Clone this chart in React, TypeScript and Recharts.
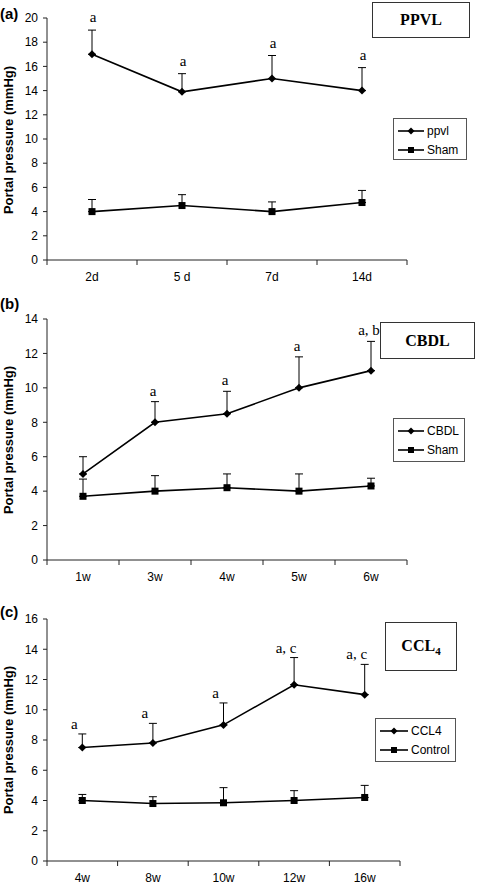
import React from 'react';
import { LineChart, Line, XAxis, YAxis, ErrorBar, LabelList, Legend } from 'recharts';

// ---------- data ----------
// (a) PPVL
const catsA = ['2d', '5 d', '7d', '14d'];
const ppvl = [17, 13.9, 15, 14];
const ppvlErr = [2.0, 1.5, 1.9, 1.9];
const shamA = [4.0, 4.5, 4.0, 4.75];
const shamAErr = [1.0, 0.9, 0.8, 1.0];
const notesA = ['a', 'a', 'a', 'a'];
const yTicksA = [0, 2, 4, 6, 8, 10, 12, 14, 16, 18, 20];

// (b) CBDL
const catsB = ['1w', '3w', '4w', '5w', '6w'];
const cbdl = [5.0, 8.0, 8.5, 10.0, 11.0];
const cbdlErr = [1.0, 1.2, 1.3, 1.8, 1.7];
const shamB = [3.7, 4.0, 4.2, 4.0, 4.3];
const shamBErr = [1.0, 0.9, 0.8, 1.0, 0.45];
const notesB = ['', 'a', 'a', 'a', 'a, b'];
const yTicksB = [0, 2, 4, 6, 8, 10, 12, 14];

// (c) CCL4
const catsC = ['4w', '8w', '10w', '12w', '16w'];
const ccl4 = [7.5, 7.8, 9.0, 11.65, 11.0];
const ccl4Err = [0.9, 1.3, 1.45, 1.8, 2.0];
const control = [4.0, 3.8, 3.85, 4.0, 4.2];
const controlErr = [0.4, 0.45, 1.0, 0.65, 0.8];
const notesC = ['a', 'a', 'a', 'a, c', 'a, c'];
const yTicksC = [0, 2, 4, 6, 8, 10, 12, 14, 16];

const SANS = '"Liberation Sans", Arial, Helvetica, sans-serif';
const SERIF = '"Liberation Serif", "Times New Roman", Times, serif';

function buildRows(cats: string[], treat: number[], treatErr: number[], ctrl: number[], ctrlErr: number[], notes: string[]) {
  return cats.map((c, i) => ({
    cat: c,
    treat: treat[i],
    treatErr: [0, treatErr[i]],
    ctrl: ctrl[i],
    ctrlErr: [0, ctrlErr[i]],
    top: treat[i] + treatErr[i],
    note: notes[i],
  }));
}

const Diamond = (p: any) => {
  const { cx, cy } = p;
  if (cx == null || cy == null) return null;
  const r = 4;
  return <polygon key={`d${cx}`} points={`${cx},${cy - r} ${cx + r},${cy} ${cx},${cy + r} ${cx - r},${cy}`} fill="#000" />;
};
const Square = (p: any) => {
  const { cx, cy } = p;
  if (cx == null || cy == null) return null;
  const s = 3.5;
  return <rect key={`s${cx}`} x={cx - s} y={cy - s} width={2 * s} height={2 * s} fill="#000" />;
};

const XTick = (props: any) => {
  const { x, y, payload, index, visibleTicksCount, width } = props;
  let half = payload && payload.offset ? payload.offset : 0;
  if (!half && width && visibleTicksCount) half = width / visibleTicksCount / 2;
  const last = index === visibleTicksCount - 1;
  return (
    <g>
      <line x1={x - half} y1={y} x2={x - half} y2={y + 5} stroke="#222" strokeWidth={1} />
      {last && <line x1={x + half} y1={y} x2={x + half} y2={y + 5} stroke="#222" strokeWidth={1} />}
      <text x={x} y={y + 12} dy="0.71em" textAnchor="middle" fontFamily={SANS} fontSize={12} fill="#000">
        {payload.value}
      </text>
    </g>
  );
};

const makeNote = (dx: number, dy: number) => (props: any) => {
  const { x, y, value } = props;
  if (!value || x == null || y == null) return null;
  return (
    <text x={x + dx} y={y - dy} textAnchor="middle" fontFamily={SERIF} fontSize={15} fill="#000">
      {value}
    </text>
  );
};

const LegendBox = ({ names, lineW }: { names: string[]; lineW: number }) => (
  <div
    style={{
      border: '1px solid #555',
      background: '#fff',
      padding: '2px 0 0 4px',
      boxSizing: 'border-box',
      height: '100%',
      fontFamily: SANS,
      fontSize: 12,
      color: '#000',
    }}
  >
    {names.map((n, i) => (
      <div key={n} style={{ height: 19, display: 'flex', alignItems: 'center' }}>
        <svg width={lineW} height={10} style={{ marginRight: 3 }}>
          <line x1={0} y1={5} x2={lineW} y2={5} stroke="#000" strokeWidth={1.6} />
          {i === 0 ? (
            <polygon points={`${lineW / 2},1.5 ${lineW / 2 + 3.5},5 ${lineW / 2},8.5 ${lineW / 2 - 3.5},5`} fill="#000" />
          ) : (
            <rect x={lineW / 2 - 3} y={2} width={6} height={6} fill="#000" />
          )}
        </svg>
        <span>{n}</span>
      </div>
    ))}
  </div>
);

type PanelProps = {
  top: number;
  height: number;
  marginTop: number;
  marginRight: number;
  xHeight: number;
  yMax: number;
  yTicks: number[];
  data: any[];
  names: string[];
  legend: { left: number; top: number; width: number; height: number; lineW: number };
  title: { left: number; top: number; width: number; height: number; content: React.ReactNode };
  note: { dx: number; dy: number };
  panelLabel: string;
  labelTop: number;
  yLabelCenter: number;
};

const Panel = (p: PanelProps) => (
  <div style={{ position: 'absolute', left: 0, top: p.top, width: 478, height: p.height }}>
    <LineChart
      width={478}
      height={p.height}
      data={p.data}
      margin={{ top: p.marginTop, right: p.marginRight, bottom: 0, left: 0 }}
    >
      <XAxis
        dataKey="cat"
        scale="band"
        height={p.xHeight}
        stroke="#222"
        tickLine={false}
        tickSize={0}
        tickMargin={0}
        tick={<XTick />}
        interval={0}
      />
      <YAxis
        type="number"
        domain={[0, p.yMax]}
        ticks={p.yTicks}
        width={47}
        stroke="#222"
        tickSize={4}
        tickMargin={5}
        interval={0}
        tick={{ fill: '#000', fontSize: 12, fontFamily: SANS }}
      />
      <Legend
        layout="vertical"
        verticalAlign="middle"
        align="center"
        wrapperStyle={{ left: p.legend.left, top: p.legend.top, width: p.legend.width, height: p.legend.height }}
        content={() => <LegendBox names={p.names} lineW={p.legend.lineW} />}
      />
      <Line
        dataKey="top"
        stroke="none"
        dot={false}
        activeDot={false}
        legendType="none"
        isAnimationActive={false}
      >
        <LabelList dataKey="note" content={makeNote(p.note.dx, p.note.dy)} />
      </Line>
      <Line
        name={p.names[1]}
        dataKey="ctrl"
        stroke="#000"
        strokeWidth={1.6}
        dot={<Square />}
        activeDot={false}
        isAnimationActive={false}
      >
        <ErrorBar dataKey="ctrlErr" width={4} stroke="#000" strokeWidth={1} direction="y" isAnimationActive={false} />
      </Line>
      <Line
        name={p.names[0]}
        dataKey="treat"
        stroke="#000"
        strokeWidth={1.6}
        dot={<Diamond />}
        activeDot={false}
        isAnimationActive={false}
      >
        <ErrorBar dataKey="treatErr" width={4} stroke="#000" strokeWidth={1} direction="y" isAnimationActive={false} />
      </Line>
    </LineChart>
    <div
      style={{
        position: 'absolute',
        left: p.title.left,
        top: p.title.top,
        width: p.title.width,
        height: p.title.height,
        border: '1px solid #333',
        boxSizing: 'border-box',
        background: '#fff',
        display: 'flex',
        alignItems: 'center',
        justifyContent: 'center',
        fontFamily: SERIF,
        fontWeight: 'bold',
        fontSize: 16,
        color: '#000',
      }}
    >
      {p.title.content}
    </div>
    <div
      style={{
        position: 'absolute',
        left: 0,
        top: p.labelTop,
        fontFamily: SANS,
        fontWeight: 'bold',
        fontSize: 15,
        lineHeight: '15px',
        color: '#000',
      }}
    >
      {p.panelLabel}
    </div>
    <div
      style={{
        position: 'absolute',
        left: 9 - 100,
        top: p.yLabelCenter - 8,
        width: 200,
        height: 16,
        lineHeight: '16px',
        textAlign: 'center',
        transform: 'rotate(-90deg)',
        fontFamily: SANS,
        fontWeight: 'bold',
        fontSize: 13,
        color: '#000',
        whiteSpace: 'nowrap',
      }}
    >
      Portal pressure (mmHg)
    </div>
  </div>
);

export default function App() {
  const dataA = buildRows(catsA, ppvl, ppvlErr, shamA, shamAErr, notesA);
  const dataB = buildRows(catsB, cbdl, cbdlErr, shamB, shamBErr, notesB);
  const dataC = buildRows(catsC, ccl4, ccl4Err, control, controlErr, notesC);
  return (
    <div style={{ position: 'absolute', left: 0, top: 0, width: 478, height: 884, overflow: 'hidden', background: '#fff' }}>
      <Panel
        top={0}
        height={290}
        marginTop={18}
        marginRight={71}
        xHeight={30}
        yMax={20}
        yTicks={yTicksA}
        data={dataA}
        names={['ppvl', 'Sham']}
        legend={{ left: 393, top: 118, width: 74, height: 42, lineW: 26 }}
        title={{ left: 372, top: 2, width: 98, height: 36, content: 'PPVL' }}
        note={{ dx: 1, dy: 8 }}
        panelLabel="(a)"
        labelTop={6}
        yLabelCenter={140}
      />
      <Panel
        top={290}
        height={300}
        marginTop={29}
        marginRight={71}
        xHeight={30}
        yMax={14}
        yTicks={yTicksB}
        data={dataB}
        names={['CBDL', 'Sham']}
        legend={{ left: 393, top: 128, width: 72, height: 44, lineW: 26 }}
        title={{ left: 380, top: 32, width: 95, height: 37, content: 'CBDL' }}
        note={{ dx: -2, dy: 6 }}
        panelLabel="(b)"
        labelTop={6}
        yLabelCenter={150}
      />
      <Panel
        top={590}
        height={294}
        marginTop={29}
        marginRight={78}
        xHeight={23}
        yMax={16}
        yTicks={yTicksC}
        data={dataC}
        names={['CCL4', 'Control']}
        legend={{ left: 375, top: 128, width: 81, height: 44, lineW: 28 }}
        title={{
          left: 385,
          top: 32,
          width: 72,
          height: 49,
          content: (
            <span>
              CCL<sub style={{ fontSize: 11, verticalAlign: '-4px' }}>4</sub>
            </span>
          ),
        }}
        note={{ dx: -8, dy: 5 }}
        panelLabel="(c)"
        labelTop={14}
        yLabelCenter={150}
      />
    </div>
  );
}
